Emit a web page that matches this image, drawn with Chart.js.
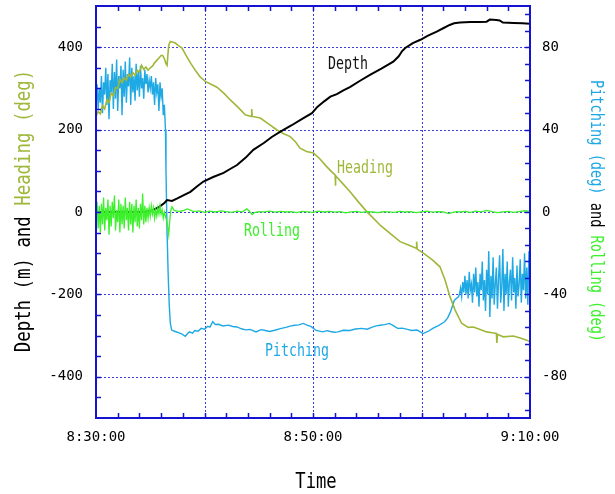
<!DOCTYPE html>
<html><head><meta charset="utf-8">
<script src="https://cdn.jsdelivr.net/npm/chart.js@4.4.1/dist/chart.umd.min.js"></script>
<style>html,body{margin:0;padding:0;background:#fff}canvas{display:block}</style>
</head><body>
<canvas id="c" width="615" height="494"></canvas>
<script>
// ---- tick labels (x in minutes after 8:30:00) ----
const xTickMinutes = [0, 20, 40];
const xTickLabels = ['8:30:00', '8:50:00', '9:10:00'];
const leftTicks = [-400, -200, 0, 200, 400];
const rightTicks = [-80, -40, 0, 40, 80];

// ---- Depth (m) ----
const depthTime = [0,4.5,5.2,5.8,6.3,6.55,7.0,7.5,8.0,8.7,9.3,9.9,10.8,11.76,12.4,13.0,13.8,14.5,15.5,16.2,17,18,19,19.9,20.4,21,21.6,22.2,22.8,23.4,24.3,25.25,26.3,27.4,27.9,28.2,28.5,29.2,29.9,30.6,31.4,32,32.6,33,33.55,34.5,35.3,36,36.3,36.9,37.2,37.5,38.5,39.3,40];
const depthM = [0,0,4,12,22,29,27,33,40,49,62,74,85,95,105,114,132,151,168,182,195,210,226,240,255,268,280,286,295,303,318,333,348,365,378,390,398,410,418,428,438,446,454,458,460,461,461,462,467,466,465,460,459,458,457];

// ---- Heading (deg) ----
const headingTime = [0.0,0.2,0.4,0.6,0.8,1.0,1.2,1.4,1.6,1.8,2.0,2.2,2.4,2.6,2.8,3.0,3.2,3.4,3.6,3.8,4.0,4.2,4.4,4.6,4.8,5.0,5.2,5.4,5.6,5.8,6.0,6.15,6.3,6.45,6.55,6.7,6.85,7.1,7.31,7.6,7.93,8.3,8.7,9.2,9.6,10.07,10.6,11.15,11.8,12.38,13.1,13.76,14.3,14.35,14.4,15.14,15.9,16.68,17.3,17.9,18.4,18.8,19.4,20.05,20.6,21.2,21.7,22.04,22.06,22.1,22.7,23.4,24.2,24.96,25.6,26.19,27.1,28.03,28.8,29.5,29.55,29.6,30.17,31.0,31.7,32.17,32.63,33.1,33.7,34.3,34.78,35.4,36.0,36.5,36.9,36.95,37.0,37.54,38.46,39.1,39.7,40.0];
const headingDeg = [232,244,238,258,250,272,266,288,282,302,300,322,314,326,320,334,328,338,332,344,340,356,346,352,344,350,354,362,368,374,380,380,372,360,356,405,414,412,410,404,398,380,362,342,328,317,310,303,288,272,254,236,232,250,232,228,214,199,190,183,170,155,147,143,130,112,98,90,64,88,70,50,24,1,-16,-32,-52,-72,-80,-88,-72,-90,-100,-116,-133,-165,-206,-238,-270,-280,-279,-285,-291,-293,-295,-318,-297,-303,-301,-306,-311,-315];

// ---- Pitching (deg) ----
const pitchEarlyTime = [0.0,0.1,0.2,0.3,0.4,0.5,0.6,0.7,0.8,0.9,1.0,1.1,1.2,1.3,1.4,1.5,1.6,1.7,1.8,1.9,2.0,2.1,2.2,2.3,2.4,2.5,2.6,2.7,2.8,2.9,3.0,3.1,3.2,3.3,3.4,3.5,3.6,3.7,3.8,3.9,4.0,4.1,4.2,4.3,4.4,4.5,4.6,4.7,4.8,4.9,5.0,5.1,5.2,5.3,5.4,5.5,5.6,5.7,5.8,5.9,6.0,6.1,6.2,6.3,6.4,6.45,6.55,6.65,6.75,6.85];
const pitchEarlyDeg = [56,62,50,60,53,66,48,63,57,70,52,67,45,64,58,72,50,68,55,74,49,66,60,71,47,69,56,73,53,67,61,75,52,70,58,66,54,72,59,68,56,71,60,65,55,69,62,67,58,64,60,66,57,63,52,65,58,62,49,63,56,60,47,52,40,20,-10,-30,-45,-54];
const pitchMidTime = [6.97,7.3,7.6,7.9,8.23,8.45,8.6,8.9,9.1,9.4,9.7,10.0,10.3,10.5,10.76,11.0,11.3,11.7,12.2,12.6,13.0,13.4,13.8,14.2,14.75,15.2,15.6,16.0,16.56,17.0,17.5,17.9,18.3,18.7,19.1,19.5,19.8,20.3,20.9,21.3,21.6,22.0,22.3,22.8,23.4,23.9,24.5,25.0,25.4,25.8,26.2,26.6,27.05,27.4,27.8,28.2,28.7,29.1,29.6,30.14,30.6,31.04,31.6,32.13,32.4,32.67,33.03,33.4];
const pitchMidDeg = [-57.3,-58.0,-58.6,-59.2,-60.3,-59.0,-58.2,-58.8,-57.5,-57.9,-56.5,-56.9,-55.5,-55.9,-53.3,-54.6,-54.5,-55.3,-54.9,-55.6,-55.8,-56.7,-57.2,-57.0,-58.2,-57.1,-57.5,-58.0,-57.3,-56.6,-56.0,-55.4,-55.0,-54.8,-54.1,-55.0,-55.5,-57.5,-58.2,-57.6,-58.0,-58.4,-58.2,-57.4,-57.5,-56.8,-56.5,-56.9,-56.0,-55.3,-55.0,-54.7,-54.1,-55.2,-56.5,-56.4,-57.0,-57.5,-57.3,-59.0,-58.0,-56.5,-55.0,-53.3,-51.5,-48.5,-42.8,-41.2];
const pitchLateTime = [33.5,33.6,33.7,33.8,33.9,34.0,34.1,34.2,34.3,34.4,34.5,34.6,34.7,34.8,34.9,35.0,35.1,35.2,35.3,35.4,35.5,35.6,35.7,35.8,35.9,36.0,36.1,36.2,36.3,36.4,36.5,36.6,36.7,36.8,36.9,37.0,37.1,37.2,37.3,37.4,37.5,37.6,37.7,37.8,37.9,38.0,38.1,38.2,38.3,38.4,38.5,38.6,38.7,38.8,38.9,39.0,39.1,39.2,39.3,39.4,39.5,39.6,39.7,39.8,39.9,40.0];
const pitchLateDeg = [-40,-37,-41,-34,-39,-31,-40,-33,-42,-29,-38,-35,-44,-30,-39,-27,-41,-34,-46,-30,-38,-24,-43,-33,-48,-28,-40,-19,-51,-31,-42,-22,-45,-35,-27,-47,-33,-21,-44,-36,-18,-48,-30,-40,-24,-46,-34,-28,-43,-22,-39,-32,-47,-26,-41,-35,-23,-44,-30,-38,-20,-42,-27,-45,-19,-36];

// ---- Rolling (deg) ----
const rollEarlyTime = [0.0,0.1,0.2,0.3,0.4,0.5,0.6,0.7,0.8,0.9,1.0,1.1,1.2,1.3,1.4,1.5,1.6,1.7,1.8,1.9,2.0,2.1,2.2,2.3,2.4,2.5,2.6,2.7,2.8,2.9,3.0,3.1,3.2,3.3,3.4,3.5,3.6,3.7,3.8,3.9,4.0,4.1,4.2,4.3,4.4,4.5,4.6,4.7,4.8,4.9,5.0,5.1,5.2,5.3,5.4,5.5,5.6,5.7,5.8,5.9,6.0,6.1,6.2,6.3,6.4,6.5,6.6,6.7,6.8,6.9,7.0];
const rollEarlyDeg = [-2,5,-8,3,-10,4,-6,7,-9,2,-4,6,-11,3,-7,5,-3,8,-9,1,-5,6,-10,4,-6,3,-8,7,-4,2,-9,5,-6,4,-10,3,-5,6,-7,2,-8,4,-4,9,-6,3,-5,2,-3,2,-2,3,-1,2,-3,1,-2,2,-1,3,-1,1,-3,0,-2,-4,-7,-11,-4,1,2.5];
const rollLateTime = [7.2,7.6,8.0,8.4,8.7,9.0,9.5,10.0,10.5,11.0,11.5,12.0,12.5,13.0,13.5,13.9,14.1,14.4,14.6,15.0,15.5,16.0,16.5,17.0,17.5,18.0,18.5,19.0,19.5,20.0,20.5,21.0,21.5,22.0,22.5,23.0,23.5,24.0,24.5,25.0,25.5,26.0,26.5,27.0,27.5,28.0,28.5,29.0,29.5,30.0,30.5,31.0,31.5,32.0,32.5,32.8,33.2,33.6,34.0,34.5,35.0,35.5,36.0,36.5,37.0,37.5,38.0,38.5,39.0,39.5,40.0];
const rollLateDeg = [0.8,0.3,0.6,1.5,0.9,0.2,0.5,-0.2,0.4,0.0,0.5,0.2,-0.2,0.4,0.1,1.5,0.6,-1.2,-0.3,0.2,0.1,0.4,-0.1,0.3,0.0,0.2,-0.3,0.3,0.1,-0.2,0.4,0.0,0.3,-0.1,0.2,-0.4,0.1,0.3,-0.2,0.2,0.0,-0.3,0.2,0.1,-0.2,0.3,0.0,0.2,-0.3,0.1,0.4,-0.1,0.2,0.0,-0.8,-0.3,0.2,0.0,0.3,-0.2,0.4,0.1,0.8,0.2,-0.3,0.1,0.3,-0.2,0.2,0.6,0.3];

// ---- styling ----
const C_DEPTH = '#000000', C_HEAD = '#9fb83a', C_PITCH = '#1ea8e4', C_ROLL = '#3cf02c';
const C_FRAME = '#1414d0', C_GRID = '#3c3ce0';
const GRID_MIN = [10, 20, 30];
const GRID_LEFT = [-400, -200, 0, 200, 400];

function pts(t, v) { return t.map((x, i) => ({ x: x, y: v[i] })); }

const framePlugin = {
  id: 'frame',
  beforeDatasetsDraw(chart) {
    const { ctx, chartArea: a, scales } = chart;
    ctx.save();
    ctx.strokeStyle = C_GRID; ctx.lineWidth = 1; ctx.setLineDash([2, 2]);
    GRID_MIN.forEach(m => {
      const px = Math.round(scales.x.getPixelForValue(m)) + 0.5;
      ctx.beginPath(); ctx.moveTo(px, a.top); ctx.lineTo(px, a.bottom); ctx.stroke();
    });
    GRID_LEFT.forEach(v => {
      const py = Math.round(scales.y.getPixelForValue(v)) + 0.5;
      ctx.beginPath(); ctx.moveTo(a.left, py); ctx.lineTo(a.right, py); ctx.stroke();
    });
    ctx.restore();
  },
  afterDatasetsDraw(chart) {
    const { ctx, chartArea: a, scales } = chart;
    ctx.save();
    ctx.strokeStyle = C_FRAME; ctx.setLineDash([]);
    ctx.lineWidth = 1.5;
    const L = 5;
    for (let m = 2; m < 40; m += 2) {
      const px = Math.round(scales.x.getPixelForValue(m)) + 0.5;
      ctx.beginPath(); ctx.moveTo(px, a.bottom); ctx.lineTo(px, a.bottom - L);
      ctx.moveTo(px, a.top); ctx.lineTo(px, a.top + L); ctx.stroke();
    }
    for (let v = -450; v <= 450; v += 50) {
      const py = Math.round(scales.y.getPixelForValue(v)) + 0.5;
      ctx.beginPath(); ctx.moveTo(a.left, py); ctx.lineTo(a.left + L, py); ctx.stroke();
    }
    for (let v = -96; v <= 96; v += 8) {
      const py = Math.round(scales.y2.getPixelForValue(v)) + 0.5;
      ctx.beginPath(); ctx.moveTo(a.right, py); ctx.lineTo(a.right - L, py); ctx.stroke();
    }
    ctx.lineWidth = 2;
    ctx.strokeRect(a.left, a.top, a.right - a.left, a.bottom - a.top);
    ctx.restore();
  },
  afterDraw(chart) {
    const ctx = chart.ctx;
    const txt = (segs, cx, cy, ang, size, sx) => {
      ctx.save();
      ctx.translate(cx, cy); ctx.rotate(ang); ctx.scale(sx, 1);
      ctx.font = size + 'px "DejaVu Sans Mono"';
      ctx.textBaseline = 'middle'; ctx.textAlign = 'left';
      const total = segs.reduce((w, s) => w + ctx.measureText(s[0]).width, 0);
      let xx = -total / 2;
      segs.forEach(s => { ctx.fillStyle = s[1]; ctx.fillText(s[0], xx, 0); xx += ctx.measureText(s[0]).width; });
      ctx.restore();
    };
    txt([['Depth (m) and ', '#000'], ['Heading (deg)', C_HEAD]], 24, 211, -Math.PI / 2, 22, 0.79);
    txt([['Pitching (deg)', C_PITCH], [' and ', '#000'], ['Rolling (deg)', C_ROLL]], 595, 211, Math.PI / 2, 17, 0.80);
    txt([['Time', '#000']], 316, 482, 0, 22, 0.78);
    txt([['Depth', '#111']], 348, 65, 0, 17, 0.78);
    txt([['Heading', C_HEAD]], 365, 169, 0, 17, 0.78);
    txt([['Rolling', C_ROLL]], 272, 232, 0, 17, 0.78);
    txt([['Pitching', C_PITCH]], 297, 352, 0, 17, 0.78);
  }
};

const tickFont = { family: 'DejaVu Sans Mono', size: 14 };
const noPad = s => { s.paddingTop = 0; s.paddingBottom = 0; s.paddingLeft = 0; s.paddingRight = 0; };

new Chart(document.getElementById('c'), {
  type: 'line',
  data: {
    datasets: [
      { label: 'Rolling', data: pts(rollEarlyTime.concat(rollLateTime), rollEarlyDeg.concat(rollLateDeg)), yAxisID: 'y2', borderColor: C_ROLL, borderWidth: 1.3, order: 0 },
      { label: 'Depth', data: pts(depthTime, depthM), yAxisID: 'y', borderColor: C_DEPTH, borderWidth: 2, order: 1 },
      { label: 'Heading', data: pts(headingTime, headingDeg), yAxisID: 'y', borderColor: C_HEAD, borderWidth: 1.6, order: 2 },
      { label: 'Pitching', data: pts(pitchEarlyTime.concat(pitchMidTime, pitchLateTime), pitchEarlyDeg.concat(pitchMidDeg, pitchLateDeg)), yAxisID: 'y2', borderColor: C_PITCH, borderWidth: 1.4, order: 3 }
    ]
  },
  options: {
    responsive: false, animation: false, devicePixelRatio: 1,
    elements: { point: { radius: 0 }, line: { tension: 0, fill: false } },
    layout: { padding: { top: 6, left: 0, right: 0, bottom: 0 } },
    plugins: { legend: { display: false }, tooltip: { enabled: false } },
    scales: {
      x: {
        type: 'linear', min: 0, max: 40, position: 'bottom',
        grid: { display: false, drawTicks: false }, border: { display: false },
        ticks: { autoSkip: false, maxRotation: 0, padding: 11, color: '#000', font: tickFont,
          callback: (v) => { const i = xTickMinutes.indexOf(v); return i < 0 ? '' : xTickLabels[i]; } },
        afterBuildTicks: s => { s.ticks = xTickMinutes.map(v => ({ value: v })); },
        afterFit: s => { s.height = 76; noPad(s); }
      },
      y: {
        type: 'linear', min: -500, max: 500, position: 'left',
        grid: { display: false, drawTicks: false }, border: { display: false },
        ticks: { padding: 13, color: '#000', font: tickFont },
        afterBuildTicks: s => { s.ticks = leftTicks.map(v => ({ value: v })); },
        afterFit: s => { s.width = 96; noPad(s); }
      },
      y2: {
        type: 'linear', min: -100, max: 100, position: 'right',
        grid: { display: false, drawTicks: false }, border: { display: false },
        ticks: { padding: 12, color: '#000', font: tickFont },
        afterBuildTicks: s => { s.ticks = rightTicks.map(v => ({ value: v })); },
        afterFit: s => { s.width = 85; noPad(s); }
      }
    }
  },
  plugins: [framePlugin]
});
</script>
</body></html>
